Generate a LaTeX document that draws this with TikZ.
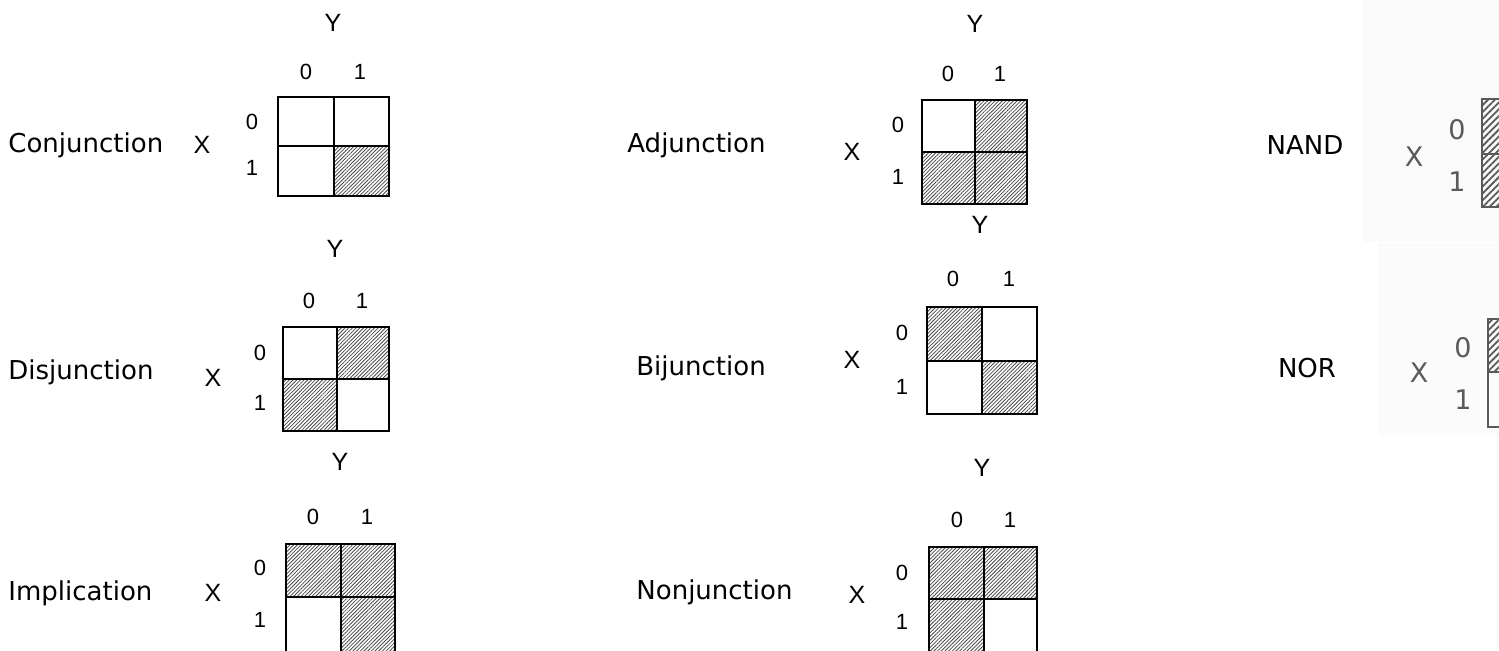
\documentclass[tikz,border=0pt]{standalone}
\usepackage{fontspec}
\setmainfont{DejaVu Sans}
\newfontfamily\arialf{Liberation Sans}
\usetikzlibrary{patterns.meta}
\definecolor{hatchc}{HTML}{484848}
\definecolor{panelgray}{HTML}{5A5A5A}
\definecolor{bgA}{HTML}{FAFAFA}
\definecolor{bgB}{HTML}{FBFBFB}
\tikzset{
  opname/.style={anchor=west, font=\fontsize{13}{15}\selectfont, inner sep=0pt},
  opnamec/.style={anchor=center, font=\fontsize{13}{15}\selectfont, inner sep=0pt},
  axislbl/.style={font=\arialf\fontsize{12.5}{14}\selectfont, inner sep=0pt},
  digit/.style={font=\arialf\fontsize{11}{12}\selectfont, inner sep=0pt},
  pdigit/.style={font=\fontsize{13.5}{15}\selectfont, text=panelgray, inner sep=0pt},
  hatch/.style={pattern={Lines[angle=45,distance=1.3pt,line width=0.4pt]}, pattern color=hatchc},
  phatch/.style={pattern={Lines[angle=45,distance=2.4pt,line width=0.9pt]}, pattern color=panelgray},
  gridline/.style={line width=1.15pt, draw=black},
  pgridline/.style={line width=1.4pt, draw=panelgray},
}
\begin{document}
\begin{tikzpicture}[x=0.5pt,y=-0.5pt]
\useasboundingbox (0,0) rectangle (1499,651);
\clip (0,0) rectangle (1499,651);

% ---------- panel backgrounds (NAND / NOR) ----------
\fill[bgA] (1363,0) rectangle (1499,242);
\fill[bgB] (1378,243) rectangle (1499,436);

% ---------- Conjunction ----------
\node[opname] (conj-lbl) at (8,145) {Conjunction};
\node[axislbl] (conj-X) at (202,145) {X};
\node[axislbl] (conj-Y) at (333,23) {Y};
\node[digit] (conj-c0) at (306,72) {0};
\node[digit] (conj-c1) at (360,72) {1};
\node[digit] (conj-r0) at (252,122) {0};
\node[digit] (conj-r1) at (252,168) {1};
\fill[hatch] (334,146) rectangle (389,196);
\draw[gridline] (278,97) rectangle (389,196) (334,97) -- (334,196) (278,146) -- (389,146);

% ---------- Disjunction ----------
\node[opname] (disj-lbl) at (8,372) {Disjunction};
\node[axislbl] (disj-X) at (213,378) {X};
\node[axislbl] (disj-Y) at (335,249) {Y};
\node[digit] (disj-c0) at (309,301) {0};
\node[digit] (disj-c1) at (362,301) {1};
\node[digit] (disj-r0) at (260,353) {0};
\node[digit] (disj-r1) at (260,403) {1};
\fill[hatch] (337,327) rectangle (389,379);
\fill[hatch] (283,379) rectangle (337,431);
\draw[gridline] (283,327) rectangle (389,431) (337,327) -- (337,431) (283,379) -- (389,379);

% ---------- Implication ----------
\node[opname] (impl-lbl) at (8,593) {Implication};
\node[axislbl] (impl-X) at (213,593) {X};
\node[axislbl] (impl-Y) at (340,462) {Y};
\node[digit] (impl-c0) at (313,517) {0};
\node[digit] (impl-c1) at (367,517) {1};
\node[digit] (impl-r0) at (260,568) {0};
\node[digit] (impl-r1) at (260,620) {1};
\fill[hatch] (286,544) rectangle (395,597);
\fill[hatch] (341,597) rectangle (395,653);
\draw[gridline] (286,544) rectangle (395,653) (341,544) -- (341,653) (286,597) -- (395,597);

% ---------- Adjunction ----------
\node[opname] (adj-lbl) at (627,145) {Adjunction};
\node[axislbl] (adj-X) at (852,152) {X};
\node[axislbl] (adj-Y) at (975,24) {Y};
\node[digit] (adj-c0) at (948,74) {0};
\node[digit] (adj-c1) at (1000,74) {1};
\node[digit] (adj-r0) at (898,125) {0};
\node[digit] (adj-r1) at (898,177) {1};
\fill[hatch] (975,100) rectangle (1027,152);
\fill[hatch] (922,152) rectangle (1027,204);
\draw[gridline] (922,100) rectangle (1027,204) (975,100) -- (975,204) (922,152) -- (1027,152);

% ---------- Bijunction ----------
\node[opname] (bij-lbl) at (636,368) {Bijunction};
\node[axislbl] (bij-X) at (852,360) {X};
\node[axislbl] (bij-Y) at (980,225) {Y};
\node[digit] (bij-c0) at (953,279) {0};
\node[digit] (bij-c1) at (1009,279) {1};
\node[digit] (bij-r0) at (902,333) {0};
\node[digit] (bij-r1) at (902,387) {1};
\fill[hatch] (927,307) rectangle (982,361);
\fill[hatch] (982,361) rectangle (1037,414);
\draw[gridline] (927,307) rectangle (1037,414) (982,307) -- (982,414) (927,361) -- (1037,361);

% ---------- Nonjunction ----------
\node[opname] (non-lbl) at (636,592) {Nonjunction};
\node[axislbl] (non-X) at (857,595) {X};
\node[axislbl] (non-Y) at (982,468) {Y};
\node[digit] (non-c0) at (957,520) {0};
\node[digit] (non-c1) at (1010,520) {1};
\node[digit] (non-r0) at (902,573) {0};
\node[digit] (non-r1) at (902,622) {1};
\fill[hatch] (929,547) rectangle (1037,599);
\fill[hatch] (929,599) rectangle (984,653);
\draw[gridline] (929,547) rectangle (1037,653) (984,547) -- (984,653) (929,599) -- (1037,599);

% ---------- NAND ----------
\node[opnamec] (nand-lbl) at (1305,145) {NAND};
\node[pdigit] (nand-X) at (1414,157) {X};
\node[pdigit] (nand-r0) at (1457,130) {0};
\node[pdigit] (nand-r1) at (1457,182) {1};
\fill[phatch] (1482,99) rectangle (1540,207);
\draw[pgridline] (1482,99) rectangle (1540,207) (1482,154) -- (1540,154);

% ---------- NOR ----------
\node[opnamec] (nor-lbl) at (1307,368) {NOR};
\node[pdigit] (nor-X) at (1419,373) {X};
\node[pdigit] (nor-r0) at (1463,348) {0};
\node[pdigit] (nor-r1) at (1463,400) {1};
\fill[phatch] (1488,319) rectangle (1545,372);
\draw[pgridline] (1488,319) rectangle (1545,427) (1488,372) -- (1545,372);
\end{tikzpicture}
\end{document}
